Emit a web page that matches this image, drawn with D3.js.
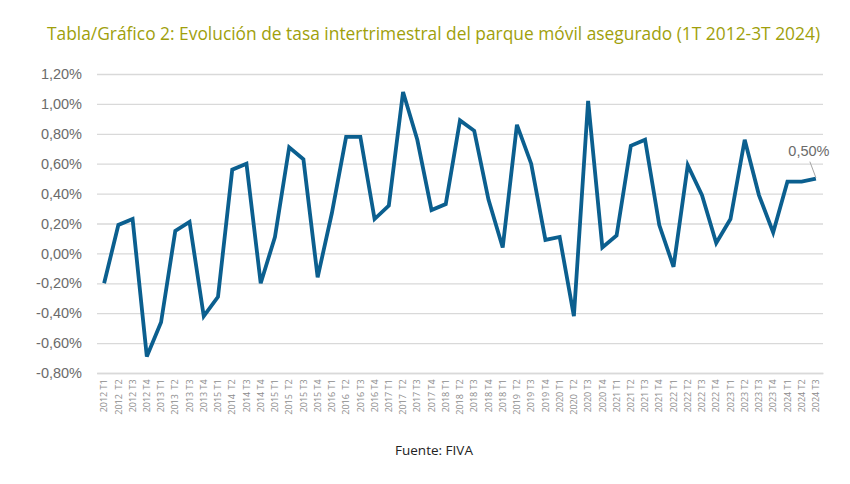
<!DOCTYPE html>
<html><head><meta charset="utf-8">
<script src="https://cdn.jsdelivr.net/npm/d3@7"></script>
<style>body{margin:0;background:#fff;}svg{display:block;}</style>
</head><body>
<svg id="c" width="850" height="484"></svg>
<script>
const labels = ["2012 T1","2012  T2","2012 T3","2012 T4","2013 T1","2013  T2","2013 T3","2013 T4","2015 T1","2014  T2","2014 T3","2014 T4","2015 T1","2015  T2","2015 T3","2015 T4","2016 T1","2016  T2","2016 T3","2016 T4","2017 T1","2017  T2","2017 T3","2017 T4","2018 T1","2018  T2","2018 T3","2018 T4","2018 T1","2019  T2","2019 T3","2019 T4","2020 T1","2020  T2","2020 T3","2020 T4","2021 T1","2021 T2","2021 T3","2021 T4","2022 T1","2022 T2","2022 T3","2022 T4","2023 T1","2023 T2","2023 T3","2023 T4","2024 T1","2024 T2","2024 T3"];
const values = [-0.20,0.19,0.23,-0.69, -0.46,0.15,0.21,-0.42, -0.29,0.56,0.60,-0.20, 0.11,0.71,0.63,-0.16, 0.27,0.78,0.78,0.23, 0.32,1.08,0.76,0.29, 0.33,0.89,0.82,0.36, 0.04,0.86,0.60,0.09, 0.11,-0.42,1.02,0.04, 0.12,0.72,0.76,0.19, -0.09,0.59,0.39,0.07, 0.23,0.76,0.39,0.14, 0.48,0.48,0.50];
const yTicks = [-0.8,-0.6,-0.4,-0.2,0,0.2,0.4,0.6,0.8,1.0,1.2];
const title = "Tabla/Gráfico 2: Evolución de tasa intertrimestral del parque móvil asegurado (1T 2012-3T 2024)";
const source = "Fuente: FIVA";

const svg = d3.select("#c");
const mLeft = 97, mRight = 823, mTop = 74, mBottom = 373;
const x = d3.scaleBand().domain(d3.range(labels.length)).range([mLeft, mRight]);
const y = d3.scaleLinear().domain([-0.8, 1.2]).range([mBottom, mTop]);
const fmt = v => v.toFixed(2).replace(".", ",") + "%";

svg.append("text").attr("x", 47).attr("y", 40)
  .attr("font-family", "Open Sans").attr("font-size", 18).attr("fill", "#a09f0c")
  .attr("textLength", 773).attr("lengthAdjust", "spacingAndGlyphs").text(title);

// grid + y axis
const ya = svg.append("g").attr("transform", `translate(${mLeft},0)`)
  .call(d3.axisLeft(y).tickValues(yTicks).tickSize(-(mRight-mLeft)).tickFormat(fmt).tickPadding(15));
ya.select(".domain").remove();
ya.selectAll(".tick line").attr("stroke", "#d9d9d9").attr("stroke-width", 1.3);
ya.selectAll(".tick text").attr("font-family", "Liberation Sans, Arial").attr("font-size", 14.5).attr("fill", "#6b6b6b");

// x axis
const xa = svg.append("g").attr("transform", `translate(0,${mBottom})`)
  .call(d3.axisBottom(x).tickFormat(i => labels[i]).tickSize(0));
xa.select(".domain").attr("stroke", "#d9d9d9").attr("stroke-width", 1.3);
xa.selectAll(".tick text").attr("font-family", "Open Sans").attr("font-size", 9).attr("fill", "#8c8c8c")
  .attr("transform", "rotate(-90)").attr("text-anchor", "end").attr("dx", "-0.7em").attr("dy", "0.35em").attr("y", 0).attr("x", 0)
  .style("white-space", "pre");

const line = d3.line().x((d, i) => x(i) + x.bandwidth()/2).y(d => y(d));
svg.append("path").datum(values).attr("d", line).attr("fill", "none")
  .attr("stroke", "#0b5f8f").attr("stroke-width", 3.8).attr("stroke-linejoin", "miter");

// annotation for last point
const li = values.length - 1;
const lx = x(li) + x.bandwidth()/2, ly = y(values[li]);
svg.append("line").attr("x1", lx - 6).attr("y1", ly - 17).attr("x2", lx).attr("y2", ly - 1)
  .attr("stroke", "#a6a6a6").attr("stroke-width", 1);
svg.append("text").attr("x", lx - 7).attr("y", ly - 23).attr("text-anchor", "middle")
  .attr("font-family", "Liberation Sans, Arial").attr("font-size", 14.5).attr("fill", "#6b6b6b").text(fmt(values[li]));

svg.append("text").attr("x", 434).attr("y", 455).attr("text-anchor", "middle")
  .attr("font-family", "Open Sans").attr("font-size", 13.5).attr("fill", "#222").text(source);
</script>
</body></html>
